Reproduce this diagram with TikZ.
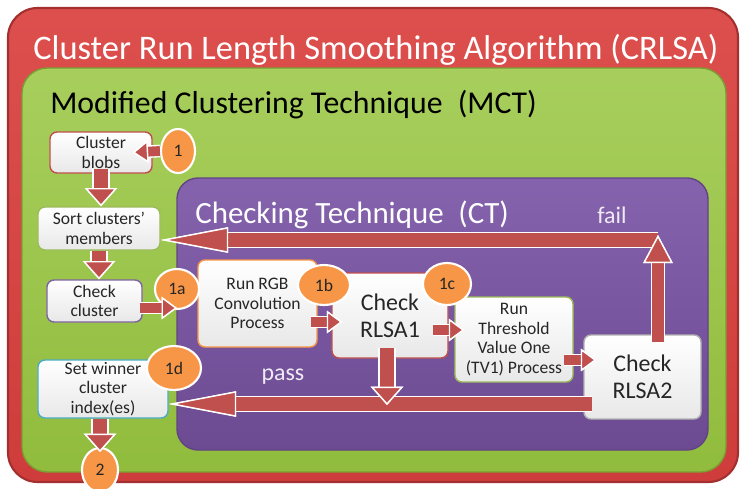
\documentclass[tikz,border=0pt]{standalone}
\usepackage{fontspec}
\setmainfont{Carlito}
\usepackage{xcolor}
\usepackage{tikz}
\usetikzlibrary{shapes.geometric,arrows.meta,calc}

\definecolor{crlsared}{HTML}{D9403E}
\definecolor{mctgreen}{HTML}{98C640}
\definecolor{ctpurple}{HTML}{7B55A6}
\definecolor{arrowred}{HTML}{C0504D}
\definecolor{numorange}{HTML}{F79646}
\definecolor{boxgreen}{HTML}{9BBB59}
\definecolor{boxpurple}{HTML}{8064A2}
\definecolor{boxaqua}{HTML}{4BACC6}

\begin{document}
\begin{tikzpicture}[x=0.25mm,y=-0.25mm,
    box/.style={draw=#1,line width=1pt,rounded corners=5pt,top color=white,
      bottom color=black!9,align=center,inner sep=0pt,text=black!85,
      font=\fontsize{12.5}{14}\selectfont},
    bigbox/.style={box=#1,font=\fontsize{17}{19}\selectfont},
    num/.style={ellipse,draw=white,line width=1.5pt,fill=numorange,inner sep=0pt,
      text=black!85,font=\fontsize{12.5}{14}\selectfont},
    blockarrow/.style n args={3}{draw=arrowred,line width=#1,
      -{Triangle[width=#2,length=#3,line width=1pt,color=white,fill=arrowred]},
      preaction={draw=white,line width=#1+2pt}},
    smallarrow/.style={blockarrow={7pt}{16pt}{11pt}},
    downarrow/.style={blockarrow={10.5pt}{23pt}{13pt}},
    longarrow/.style={blockarrow={10pt}{18pt}{48pt}},
    uparrow/.style={blockarrow={8pt}{21pt}{20pt}},
    heading/.style={anchor=west,inner sep=0pt,font=\fontsize{#1}{#1}\selectfont}]
  \useasboundingbox (0,0) rectangle (741,489);

  % the three frames
  \draw[draw=crlsared!75!black,line width=1.5pt,rounded corners=21pt,
    top color=crlsared!92!white,bottom color=crlsared!95!black] (8,8) rectangle (738,482);
  \node[heading=24.5,text=white] (crlsa) at (33,50) {Cluster Run Length Smoothing Algorithm (CRLSA)};
  \draw[draw=mctgreen!80!black,line width=1pt,rounded corners=18pt,
    top color=mctgreen!85!white,bottom color=mctgreen!95!black] (22,68) rectangle (726,472);
  \node[heading=22.6] (mct) at (50,105) {Modified Clustering Technique\hspace{0.25em} (MCT)};
  \draw[draw=ctpurple!80!black,line width=1pt,rounded corners=15pt,
    top color=ctpurple!92!white,bottom color=ctpurple!88!black] (177,178) rectangle (708,450);
  \node[heading=22,text=white] (ct) at (195,215) {Checking Technique\hspace{0.25em} (CT)};
  \node[text=white!88!ctpurple,font=\fontsize{17}{19}\selectfont] (fail) at (612,215) {fail};
  \node[text=white!88!ctpurple,font=\fontsize{17}{19}\selectfont] (pass) at (283,377) {pass};

  % steps
  \node[box=arrowred,minimum width=25.5mm,minimum height=10.25mm] (blobs) at (101,152.5) {Cluster\\blobs};
  \node[box=boxgreen,minimum width=30.5mm,minimum height=10.75mm] (sort) at (99,228.5) {Sort clusters'\\members};
  \node[box=boxpurple,minimum width=23.75mm,minimum height=10.5mm] (checkc) at (94.5,301) {Check\\cluster};
  \node[box=numorange,minimum width=29.75mm,minimum height=21.75mm] (rgb) at (257.5,303.5) {Run RGB\\Convolution\\Process};
  \node[bigbox=arrowred,minimum width=29mm,minimum height=21.25mm] (rlsa1) at (390,315.5) {Check\\RLSA1};
  \node[box=boxgreen,minimum width=29.5mm,minimum height=21.25mm] (tv1) at (514,339.5) {Run\\Threshold\\Value One\\(TV1) Process};
  \node[bigbox=black!30,minimum width=29.25mm,minimum height=21mm] (rlsa2) at (642.5,377) {Check\\RLSA2};
  \node[box=boxaqua,minimum width=32.5mm,minimum height=14.5mm] (winner) at (103,389) {Set winner\\cluster\\index(es)};

  % numbers
  \node[num,minimum width=8.5mm,minimum height=11mm] (c1) at (178,151) {1};
  \node[num,minimum width=11mm,minimum height=10mm] (c1a) at (177,289) {1a};
  \node[num,minimum width=13mm,minimum height=10mm] (c1b) at (324,285) {1b};
  \node[num,minimum width=12mm,minimum height=10.5mm] (c1c) at (447,284) {1c};
  \node[num,minimum width=13.5mm,minimum height=11mm] (c1d) at (174,368) {1d};
  \node[num,minimum width=9mm,minimum height=11mm] (c2) at (100,470) {2};

  \coordinate (failturn) at (658,240);
  \coordinate (passstart) at (592,404);

  \draw[smallarrow] (c1.west) -- ($(blobs.east)+(-20,0)$);
  \draw[downarrow] ($(blobs.south)+(0,-5)$) -- (blobs.south |- sort.north);
  \draw[downarrow] (sort.south) -- (sort.south |- checkc.north);
  \draw[smallarrow] ($(checkc.east)+(-3,7)$) -- ($(checkc.east -| c1a)+(0,7)$);
  \draw[smallarrow] ($(rgb.east)+(-7,18.5)$) -- ($(rlsa1.west)+(11,6.5)$);
  \draw[smallarrow] ($(rlsa1.east)+(-16,14.5)$) -- ($(tv1.west)+(10,-9.5)$);
  \draw[smallarrow] ($(tv1.east)+(-10,20.5)$) -- ($(rlsa2.west)+(13,-17)$);
  \draw[longarrow] (failturn) -- (sort.east |- failturn);
  \draw[uparrow] ($(rlsa2.north)+(15.5,8)$) -- ($(failturn)+(0,-5)$);
  \draw[longarrow] (passstart) -- (winner.east |- passstart);
  \draw[downarrow] ($(rlsa1.south)+(-3,-11)$) -- ($(rlsa1.south |- passstart)+(-3,1)$);
  \draw[downarrow] (winner.south -| c2.north) -- ($(c2.north)+(0,5)$);
\end{tikzpicture}
\end{document}
